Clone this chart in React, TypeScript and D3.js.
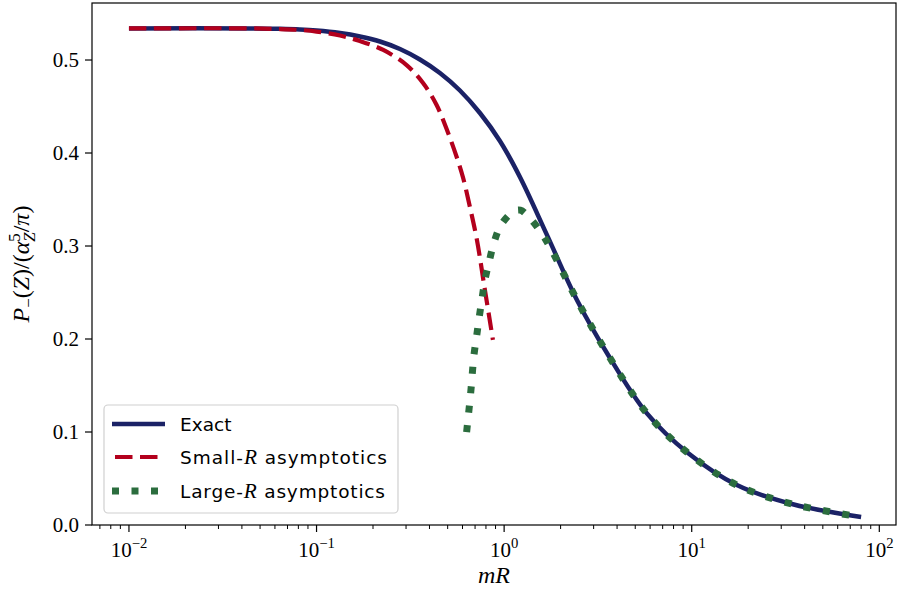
import * as d3 from "d3";

// values
const exactX = [0.01, 0.044, 0.0638, 0.0815, 0.1, 0.1334, 0.1703, 0.2178, 0.2784, 0.3557, 0.4547, 0.5813, 0.743, 0.9497, 1.214, 1.691, 2.444, 3.532, 5.77, 9.55, 17.4, 34.2, 80];
const exactY = [0.534, 0.534, 0.5335, 0.5328, 0.5317, 0.529, 0.5253, 0.5199, 0.5118, 0.5005, 0.486, 0.4672, 0.443, 0.4129, 0.3742, 0.312, 0.242, 0.185, 0.12, 0.0774, 0.043, 0.0226, 0.0086];

const smallX = [0.01, 0.044, 0.0638, 0.0815, 0.1, 0.1334, 0.1703, 0.2267, 0.302, 0.3705, 0.4366, 0.4937, 0.558, 0.6053, 0.657, 0.716, 0.79, 0.8715];
const smallY = [0.534, 0.534, 0.5333, 0.5323, 0.5306, 0.5263, 0.5204, 0.5108, 0.4946, 0.4749, 0.4516, 0.4258, 0.396, 0.3728, 0.342, 0.3065, 0.2527, 0.199];

const largeX = [0.631, 0.663, 0.69, 0.713, 0.736, 0.762, 0.79, 0.834, 0.883, 0.962, 1.12, 1.22, 1.37, 1.585, 1.79, 2.444, 3.532, 5.77, 9.55, 17.4, 34.2, 80];
const largeY = [0.1, 0.1416, 0.182, 0.2025, 0.223, 0.243, 0.2634, 0.284, 0.3036, 0.3226, 0.337, 0.3385, 0.33, 0.3137, 0.2957, 0.242, 0.185, 0.12, 0.0774, 0.043, 0.0226, 0.0086];

const yTicks = [0, 0.1, 0.2, 0.3, 0.4, 0.5];
const xDecades = [-2, -1, 0, 1, 2];

const W = 898;
const H = 598;
const left = 92, right = 896, top = 3, bottom = 525;

const serif = "'Liberation Serif', 'DejaVu Serif', serif";
const sans = "'DejaVu Sans', sans-serif";

const cBlue = "#1b2266";
const cRed = "#b3001d";
const cGreen = "#2b6d3e";

export default function App() {
  const x = d3.scaleLog().domain([Math.pow(10, -2.197), Math.pow(10, 2.089)]).range([left, right]);
  const y = d3.scaleLinear().domain([0, 0.5613]).range([bottom, top]);

  const line = d3
    .line<[number, number]>()
    .x((d) => x(d[0]))
    .y((d) => y(d[1]))
    .curve(d3.curveCatmullRom.alpha(0.5));

  const pts = (xs: number[], ys: number[]) => xs.map((v, i) => [v, ys[i]] as [number, number]);

  const [d0, d1] = x.domain();
  const minor: number[] = [];
  for (let e = -3; e <= 2; e++) {
    for (let k = 2; k <= 9; k++) {
      const v = k * Math.pow(10, e);
      if (v >= d0 && v <= d1) minor.push(v);
    }
  }

  const tickFs = 21;
  const labFs = 24;
  const legFs = 18.5;

  return (
    <svg width={W} height={H} style={{ position: "absolute", left: 0, top: 0, background: "#fff" }}>
      <defs>
        <clipPath id="plot">
          <rect x={left} y={top} width={right - left} height={bottom - top} />
        </clipPath>
      </defs>

      <g clipPath="url(#plot)" fill="none">
        <path d={line(pts(exactX, exactY)) || ""} stroke={cBlue} strokeWidth={4.5} />
        <path d={line(pts(smallX, smallY)) || ""} stroke={cRed} strokeWidth={4.2} strokeDasharray="17.5 7.5" />
        <path d={line(pts(largeX, largeY)) || ""} stroke={cGreen} strokeWidth={7} strokeDasharray="7 12.5" />
      </g>

      {/* frame */}
      <rect x={left} y={top} width={right - left} height={bottom - top} fill="none" stroke="#000" strokeWidth={1.2} />

      {/* y axis */}
      {yTicks.map((t) => (
        <g key={"y" + t}>
          <line x1={left - 7} x2={left} y1={y(t)} y2={y(t)} stroke="#000" strokeWidth={1.2} />
          <text x={left - 13} y={y(t)} dy="0.35em" textAnchor="end" fontFamily={serif} fontSize={tickFs}>
            {t.toFixed(1)}
          </text>
        </g>
      ))}

      {/* x axis */}
      {minor.map((v) => (
        <line key={"m" + v} x1={x(v)} x2={x(v)} y1={bottom} y2={bottom + 4} stroke="#000" strokeWidth={1} />
      ))}
      {xDecades.map((e) => (
        <g key={"x" + e}>
          <line x1={x(Math.pow(10, e))} x2={x(Math.pow(10, e))} y1={bottom} y2={bottom + 7} stroke="#000" strokeWidth={1.2} />
          <text x={x(Math.pow(10, e))} y={bottom + 32} textAnchor="middle" fontFamily={serif} fontSize={tickFs}>
            10
            <tspan fontSize={tickFs * 0.7} dy={-9}>
              {e < 0 ? "\u2212" + -e : e}
            </tspan>
          </text>
        </g>
      ))}

      {/* axis labels */}
      <text x={(left + right) / 2} y={583} textAnchor="middle" fontFamily={serif} fontSize={labFs} fontStyle="italic">
        mR
      </text>
      <text transform={`translate(29,${(top + bottom) / 2}) rotate(-90)`} textAnchor="middle" fontFamily={serif} fontSize={labFs}>
        <tspan fontStyle="italic">P</tspan>
        <tspan fontSize={labFs * 0.7} dy={5}>{"\u2212"}</tspan>
        <tspan dy={-5}>(</tspan>
        <tspan fontStyle="italic">Z</tspan>
        <tspan>)/(</tspan>
        <tspan fontStyle="italic">α</tspan>
        <tspan fontSize={labFs * 0.7} dy={-9}>5</tspan>
        <tspan fontSize={labFs * 0.7} fontStyle="italic" dx={-8.4} dy={15}>Z</tspan>
        <tspan dy={-6}>/</tspan>
        <tspan fontStyle="italic">π</tspan>
        <tspan>)</tspan>
      </text>

      {/* legend */}
      <g>
        <rect x={104} y={405} width={294} height={108} rx={4} fill="#fff" fillOpacity={0.8} stroke="#d0d0d0" strokeWidth={1.2} />
        <line x1={112} x2={165} y1={424} y2={424} stroke={cBlue} strokeWidth={4.5} />
        <line x1={115} x2={165} y1={457} y2={457} stroke={cRed} strokeWidth={4.2} strokeDasharray="17.5 7.5" />
        <line x1={112} x2={165} y1={491} y2={491} stroke={cGreen} strokeWidth={7} strokeDasharray="7 12.5" />
        <text x={180} y={431} fontFamily={sans} fontSize={legFs}>Exact</text>
        <text x={180} y={464} fontFamily={sans} fontSize={legFs} textLength={207} lengthAdjust="spacing">
          Small-<tspan fontFamily={serif} fontStyle="italic" fontSize={legFs * 1.15}>R</tspan> asymptotics
        </text>
        <text x={180} y={498} fontFamily={sans} fontSize={legFs} textLength={205} lengthAdjust="spacing">
          Large-<tspan fontFamily={serif} fontStyle="italic" fontSize={legFs * 1.15}>R</tspan> asymptotics
        </text>
      </g>
    </svg>
  );
}
